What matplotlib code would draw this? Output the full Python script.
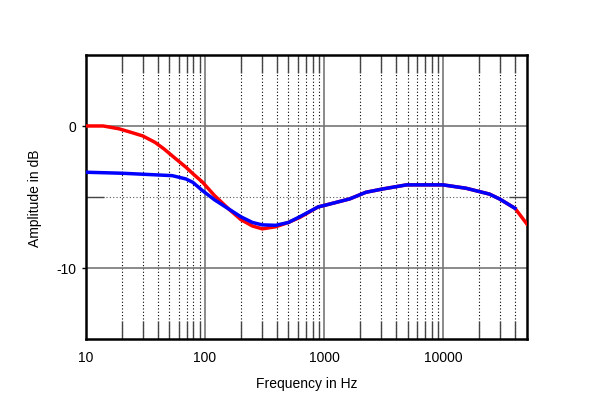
import numpy as np
import matplotlib.pyplot as plt

plt.rcParams['font.family'] = ['Liberation Sans', 'DejaVu Sans']

# red trace
red_f = [10, 14, 19, 24, 30, 38, 45, 53, 69, 80, 95, 120, 158, 200, 250, 302, 392, 500,
         622, 891, 1000, 1634, 2240, 3090, 4900, 9900, 15500, 24300, 29500, 39800, 50000]
red_db = [0.0, 0.0, -0.2, -0.45, -0.7, -1.15, -1.6, -2.1, -2.9, -3.4, -3.95, -4.9, -5.85,
          -6.6, -7.05, -7.25, -7.1, -6.8, -6.45, -5.7, -5.6, -5.14, -4.67, -4.44, -4.15,
          -4.15, -4.39, -4.8, -5.14, -5.8, -6.9]

# blue trace
blue_f = [10, 15, 20, 30, 40, 53, 69, 79, 95, 120, 158, 200, 250, 302, 392, 500, 622, 891,
          1000, 1634, 2240, 3090, 4900, 9900, 15500, 24300, 29500, 39800]
blue_db = [-3.26, -3.3, -3.33, -3.4, -3.45, -3.5, -3.73, -3.97, -4.55, -5.2, -5.85, -6.4,
           -6.8, -6.97, -7.0, -6.8, -6.4, -5.7, -5.6, -5.14, -4.67, -4.44, -4.15, -4.15,
           -4.39, -4.8, -5.14, -5.8]

xticks = [10, 100, 1000, 10000]
xticklabels = ['10', '100', '1000', '10000']
yticks = [0, -10]
yticklabels = ['0', '-10']

fig = plt.figure(figsize=(6, 4.06), dpi=100)
ax = fig.add_axes([0.143, 0.163, 0.735, 0.699])

ax.set_xscale('log')
ax.set_xlim(10, 50000)
ax.set_ylim(-15, 5)

# minor verticals: dotted through the middle
minors = [m * 10 ** d for d in range(1, 5) for m in range(2, 10) if m * 10 ** d < 50000]
for f in minors:
    ax.axvline(f, color='black', lw=0.8, ls=(0, (1, 2)), zorder=1)
for f in [100, 1000, 10000]:
    ax.axvline(f, color='#777777', lw=1.2, zorder=1)
for y in [0, -10]:
    ax.axhline(y, color='#777777', lw=1.2, zorder=1)
ax.axhline(-5, color='#555555', lw=0.8, ls=(0, (1, 2)), zorder=1)

ax.plot(red_f, red_db, color='#ff0000', lw=2.5, zorder=3)
ax.plot(blue_f, blue_db, color='#0000ff', lw=2.5, zorder=4)

ax.set_xticks(xticks)
ax.set_xticklabels(xticklabels)
ax.set_xticks(minors, minor=True)
ax.set_yticks(yticks)
ax.set_yticklabels(yticklabels)
ax.set_yticks([-5], minor=True)
ax.tick_params(axis='x', which='major', length=0, labelsize=10, pad=8)
ax.tick_params(axis='y', which='major', length=3, width=1, direction='out',
               labelsize=10, pad=4)
ax.tick_params(which='minor', direction='in', length=13, width=1, color='#444444',
               top=True, right=True, labelbottom=False)

for s in ax.spines.values():
    s.set_linewidth(1.8)

ax.set_xlabel('Frequency in Hz', fontsize=10, labelpad=9)
ax.set_ylabel('Amplitude in dB', fontsize=10, labelpad=10)

fig.savefig('out.png', dpi=100)
